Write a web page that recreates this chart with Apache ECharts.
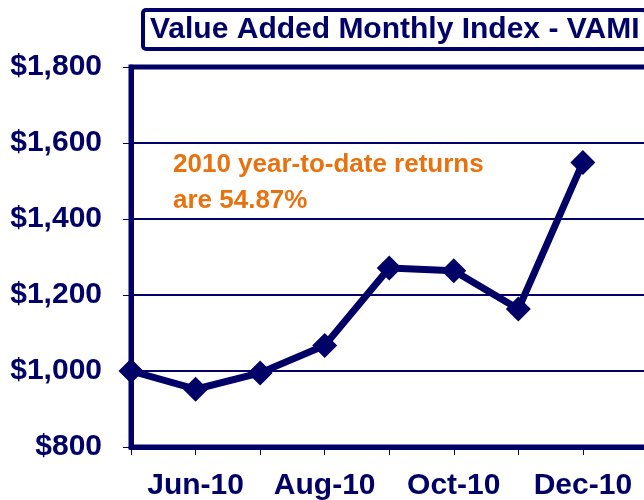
<!DOCTYPE html>
<html><head><meta charset="utf-8">
<script src="https://cdn.jsdelivr.net/npm/echarts@6/dist/echarts.min.js"></script>
<style>html,body{margin:0;padding:0;background:#fff}#c{width:644px;height:500px}</style>
</head><body><div id="c"></div>
<script>
const categories = ['May-10','Jun-10','Jul-10','Aug-10','Sep-10','Oct-10','Nov-10','Dec-10','Jan-11','Feb-11'];
const vami = [1000, 952, 995, 1067, 1271, 1264, 1163, 1549];
const yTicks = [800, 1000, 1200, 1400, 1600, 1800];
const navy = '#000066';
const font = 'Liberation Sans, Arial, sans-serif';
const chart = echarts.init(document.getElementById('c'));
chart.setOption({
  animation: false,
  title: [{
    text: 'Value Added Monthly Index - VAMI',
    left: 143, top: 10,
    padding: [5, 7, 4, 7],
    borderColor: navy, borderWidth: 4, borderRadius: 3,
    textStyle: {fontFamily: font, fontWeight: 'bold', fontSize: 30, color: navy}
  }, {
    text: '2010 year-to-date returns\nare 54.87%',
    left: 168, top: 142,
    textStyle: {fontFamily: font, fontWeight: 'bold', fontSize: 26, color: '#E8720F', lineHeight: 36}
  }],
  grid: {left: 131, right: -68, top: 67, bottom: 53, show: true, borderColor: navy, borderWidth: 5,
    containLabel: false, outerBoundsMode: 'none'},
  xAxis: {
    type: 'category', data: categories, boundaryGap: false,
    axisLine: {show: true, lineStyle: {color: navy, width: 5}},
    axisTick: {show: true, interval: 0, length: 8, lineStyle: {color: navy, width: 1}},
    axisLabel: {interval: function(i){ return i % 2 === 1 && i < 8; }, margin: 24,
      fontFamily: font, fontWeight: 'bold', fontSize: 30, color: navy},
    splitLine: {show: false}
  },
  yAxis: {
    type: 'value', min: yTicks[0], max: yTicks[yTicks.length-1], interval: 200,
    axisLine: {show: true, lineStyle: {color: navy, width: 5}},
    axisTick: {show: true, length: 8, lineStyle: {color: navy, width: 1}},
    axisLabel: {margin: 29, fontFamily: font, fontWeight: 'bold', fontSize: 30, color: navy,
      formatter: v => '$' + v.toLocaleString('en-US')},
    splitLine: {show: true, lineStyle: {color: navy, width: 2}}
  },
  series: [{
    type: 'line', data: vami,
    lineStyle: {color: navy, width: 7},
    itemStyle: {color: navy},
    symbol: 'diamond', symbolSize: 25,
    z: 5
  }]
});
</script></body></html>
